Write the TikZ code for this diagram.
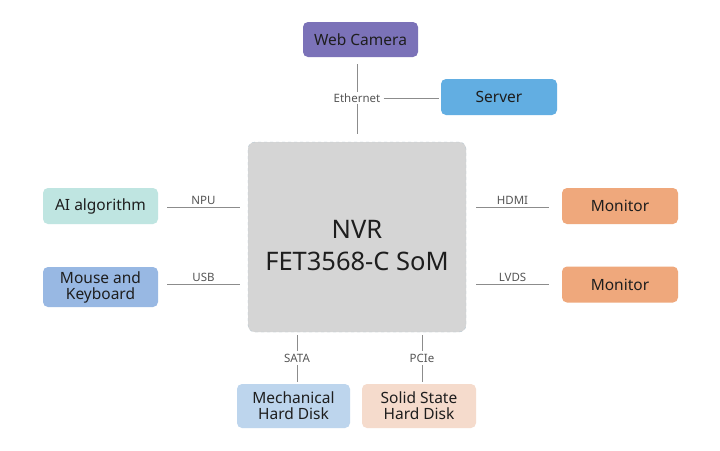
\documentclass[tikz,border=0pt]{standalone}
\usepackage{fontspec}
\setmainfont{Noto Sans}
\usetikzlibrary{positioning}
\definecolor{cam}{HTML}{7B72B8}
\definecolor{srv}{HTML}{62AEE2}
\definecolor{ai}{HTML}{BFE5E1}
\definecolor{mk}{HTML}{98B8E3}
\definecolor{mon}{HTML}{EFA87C}
\definecolor{mhd}{HTML}{BDD5ED}
\definecolor{ssd}{HTML}{F5DBCC}
\definecolor{core}{HTML}{D5D5D5}
\definecolor{coreb}{HTML}{B7C7D1}
\definecolor{ln}{HTML}{8C8C8C}
\definecolor{lbl}{HTML}{555555}
\definecolor{txt}{HTML}{1E1E1E}
\begin{document}
\begin{tikzpicture}[x=1pt,y=-1pt,
  dev/.style={draw=none,rounded corners=5pt,text=txt,font=\fontsize{15.5}{16}\selectfont,align=center,inner sep=0pt},
  conn/.style={draw=ln,line width=0.8pt},
  lab/.style={text=lbl,font=\fontsize{11.5}{13}\selectfont,inner sep=1pt}]
\useasboundingbox (0,0) rectangle (720,450);
\fill[white] (0,0) rectangle (720,450);
% core
\node[draw=coreb,dashed,fill=core,rounded corners=7pt,minimum width=218pt,minimum height=190pt,inner sep=0pt] (core) at (357,237) {};
\node[font=\fontsize{25.5}{32}\selectfont,align=center,text=txt,inner sep=0pt] (coretext) at (357,246) {NVR\\FET3568-C SoM};
% devices
\node[dev,fill=cam,minimum width=115pt,minimum height=35pt] (cam) at (360.5,39.5) {Web Camera};
\node[dev,fill=srv,minimum width=116pt,minimum height=36pt] (srv) at (499,97) {Server};
\node[dev,fill=ai,minimum width=115pt,minimum height=36pt] (ai) at (100.5,206) {AI algorithm};
\node[dev,fill=mk,minimum width=115pt,minimum height=40pt] (mk) at (100.5,287) {Mouse and\\Keyboard};
\node[dev,fill=mon,minimum width=116pt,minimum height=36pt] (mon1) at (620,206) {Monitor};
\node[dev,fill=mon,minimum width=116pt,minimum height=36pt] (mon2) at (620,284.5) {Monitor};
\node[dev,fill=mhd,minimum width=113pt,minimum height=44pt] (mhd) at (293.5,406) {Mechanical\\Hard Disk};
\node[dev,fill=ssd,minimum width=114pt,minimum height=44pt] (ssd) at (419,406) {Solid State\\Hard Disk};
% ethernet
\node[lab,inner xsep=3pt] (eth) at (357,98) {Ethernet};
\coordinate (c1) at (357,64);
\coordinate (c2) at (357,134);
\draw[conn] (c1) -- (eth.north);
\draw[conn] (eth.south) -- (c2);
\coordinate (s1) at (439,98);
\draw[conn] (eth.east) -- (s1);
% left
\coordinate (n1) at (167,207); \coordinate (n2) at (240,207);
\draw[conn] (n1) -- (n2);
\node[lab,above=1pt] (npu) at (203.5,207) {NPU};
\coordinate (u1) at (167,284); \coordinate (u2) at (240,284);
\draw[conn] (u1) -- (u2);
\node[lab,above=1pt] (usb) at (203.5,284) {USB};
% right
\coordinate (h1) at (476,207); \coordinate (h2) at (549,207);
\draw[conn] (h1) -- (h2);
\node[lab,above=1pt] (hdmi) at (512.5,207) {HDMI};
\coordinate (l1) at (476,284); \coordinate (l2) at (549,284);
\draw[conn] (l1) -- (l2);
\node[lab,above=1pt] (lvds) at (512.5,284) {LVDS};
% bottom
\node[lab,inner ysep=3pt] (sata) at (297,358) {SATA};
\coordinate (a1) at (297,335); \coordinate (a2) at (297,382);
\draw[conn] (a1) -- (sata.north);
\draw[conn] (sata.south) -- (a2);
\node[lab,inner ysep=3pt] (pcie) at (422,358) {PCIe};
\coordinate (p1) at (422,335); \coordinate (p2) at (422,382);
\draw[conn] (p1) -- (pcie.north);
\draw[conn] (pcie.south) -- (p2);
\end{tikzpicture}
\end{document}
